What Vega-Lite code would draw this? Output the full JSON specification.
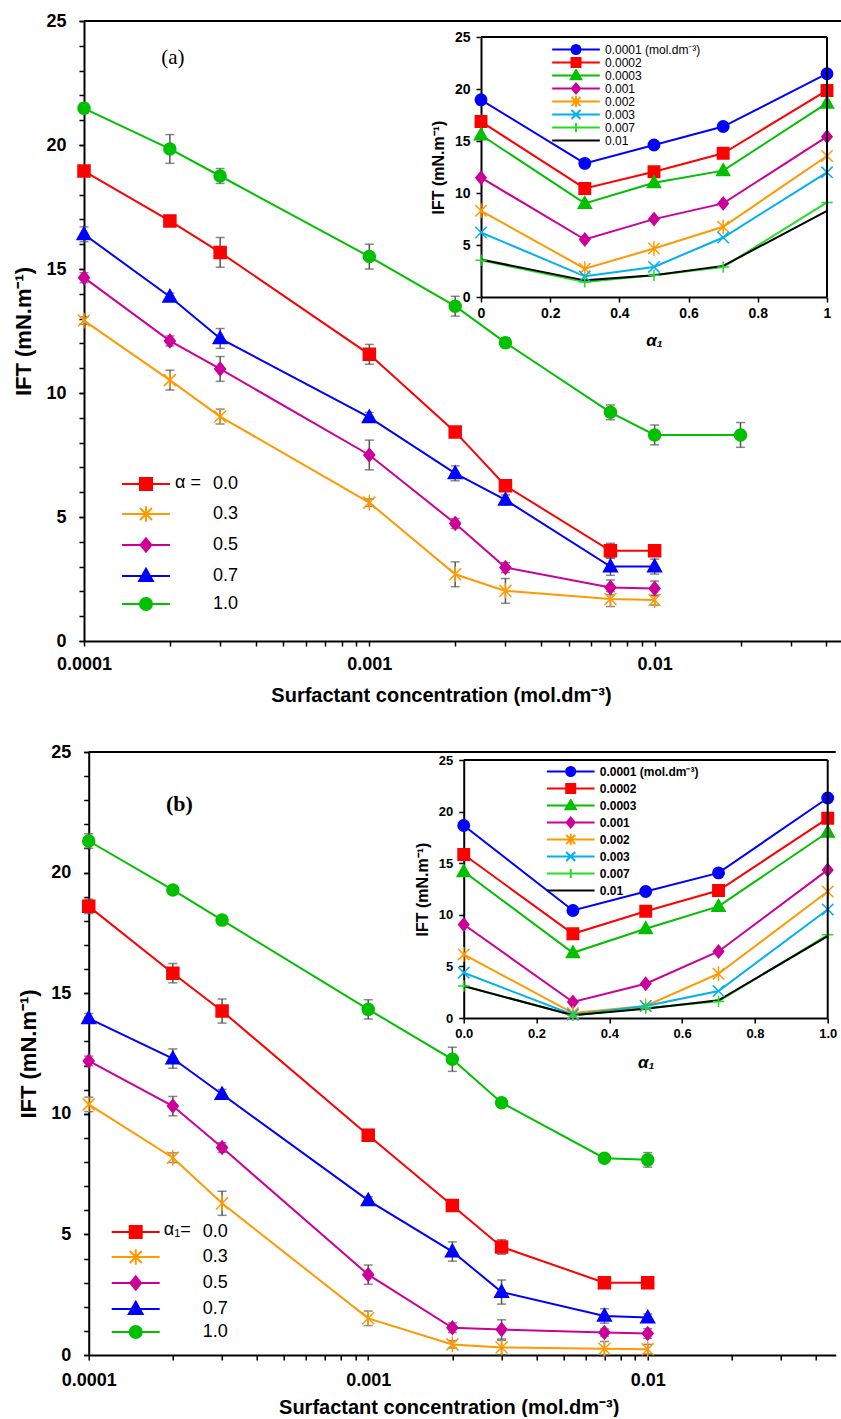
{
  "$schema": "https://vega.github.io/schema/vega-lite/v6.json",
  "padding": {"left": 12, "top": 12, "right": 0, "bottom": 0},
  "spacing": 38,
  "center": true,
  "config": {"view": {"stroke": null}, "font": "Liberation Sans", "axis": {"labelOverlap": false, "labelBound": false}},
  "datasets": {
    "mainA": [
      {"c":0.0001,"a":"0.0","v":18.95,"e":0.2},{"c":0.0002,"a":"0.0","v":16.94,"e":0.2},{"c":0.0003,"a":"0.0","v":15.67,"e":0.6},{"c":0.001,"a":"0.0","v":11.56,"e":0.4},{"c":0.002,"a":"0.0","v":8.43,"e":0.2},{"c":0.003,"a":"0.0","v":6.26,"e":0.2},{"c":0.007,"a":"0.0","v":3.64,"e":0.3},{"c":0.01,"a":"0.0","v":3.64,"e":0.2},
      {"c":0.0001,"a":"0.3","v":12.92,"e":0.15},{"c":0.0002,"a":"0.3","v":10.52,"e":0.4},{"c":0.0003,"a":"0.3","v":9.05,"e":0.3},{"c":0.001,"a":"0.3","v":5.58,"e":0.15},{"c":0.002,"a":"0.3","v":2.69,"e":0.5},{"c":0.003,"a":"0.3","v":2.02,"e":0.5},{"c":0.007,"a":"0.3","v":1.69,"e":0.3},{"c":0.01,"a":"0.3","v":1.65,"e":0.2},
      {"c":0.0001,"a":"0.5","v":14.65,"e":0.2},{"c":0.0002,"a":"0.5","v":12.1,"e":0.2},{"c":0.0003,"a":"0.5","v":10.97,"e":0.5},{"c":0.001,"a":"0.5","v":7.5,"e":0.6},{"c":0.002,"a":"0.5","v":4.74,"e":0.2},{"c":0.003,"a":"0.5","v":2.96,"e":0.2},{"c":0.007,"a":"0.5","v":2.16,"e":0.3},{"c":0.01,"a":"0.5","v":2.12,"e":0.3},
      {"c":0.0001,"a":"0.7","v":16.4,"e":0.3},{"c":0.0002,"a":"0.7","v":13.88,"e":0.15},{"c":0.0003,"a":"0.7","v":12.2,"e":0.4},{"c":0.001,"a":"0.7","v":9.02,"e":0.2},{"c":0.002,"a":"0.7","v":6.76,"e":0.3},{"c":0.003,"a":"0.7","v":5.69,"e":0.2},{"c":0.007,"a":"0.7","v":3.0,"e":0.35},{"c":0.01,"a":"0.7","v":3.0,"e":0.3},
      {"c":0.0001,"a":"1.0","v":21.48,"e":0.2},{"c":0.0002,"a":"1.0","v":19.84,"e":0.58},{"c":0.0003,"a":"1.0","v":18.75,"e":0.3},{"c":0.001,"a":"1.0","v":15.5,"e":0.5},{"c":0.002,"a":"1.0","v":13.5,"e":0.4},{"c":0.003,"a":"1.0","v":12.03,"e":0.2},{"c":0.007,"a":"1.0","v":9.22,"e":0.3},{"c":0.01,"a":"1.0","v":8.31,"e":0.4},{"c":0.02,"a":"1.0","v":8.31,"e":0.5}
    ],
    "mainB": [
      {"c":0.0001,"a":"0.0","v":18.6,"e":0.3},{"c":0.0002,"a":"0.0","v":15.83,"e":0.4},{"c":0.0003,"a":"0.0","v":14.26,"e":0.5},{"c":0.001,"a":"0.0","v":9.11,"e":0.2},{"c":0.002,"a":"0.0","v":6.2,"e":0.2},{"c":0.003,"a":"0.0","v":4.48,"e":0.3},{"c":0.007,"a":"0.0","v":3.0,"e":0.2},{"c":0.01,"a":"0.0","v":3.0,"e":0.2},
      {"c":0.0001,"a":"0.3","v":10.39,"e":0.3},{"c":0.0002,"a":"0.3","v":8.18,"e":0.2},{"c":0.0003,"a":"0.3","v":6.29,"e":0.5},{"c":0.001,"a":"0.3","v":1.52,"e":0.3},{"c":0.002,"a":"0.3","v":0.44,"e":0.15},{"c":0.003,"a":"0.3","v":0.31,"e":0.3},{"c":0.007,"a":"0.3","v":0.26,"e":0.3},{"c":0.01,"a":"0.3","v":0.24,"e":0.2},
      {"c":0.0001,"a":"0.5","v":12.19,"e":0.2},{"c":0.0002,"a":"0.5","v":10.32,"e":0.4},{"c":0.0003,"a":"0.5","v":8.6,"e":0.2},{"c":0.001,"a":"0.5","v":3.33,"e":0.4},{"c":0.002,"a":"0.5","v":1.13,"e":0.2},{"c":0.003,"a":"0.5","v":1.06,"e":0.4},{"c":0.007,"a":"0.5","v":0.93,"e":0.15},{"c":0.01,"a":"0.5","v":0.89,"e":0.2},
      {"c":0.0001,"a":"0.7","v":13.96,"e":0.2},{"c":0.0002,"a":"0.7","v":12.29,"e":0.4},{"c":0.0003,"a":"0.7","v":10.81,"e":0.2},{"c":0.001,"a":"0.7","v":6.41,"e":0.15},{"c":0.002,"a":"0.7","v":4.29,"e":0.4},{"c":0.003,"a":"0.7","v":2.61,"e":0.5},{"c":0.007,"a":"0.7","v":1.62,"e":0.3},{"c":0.01,"a":"0.7","v":1.55,"e":0.15},
      {"c":0.0001,"a":"1.0","v":21.31,"e":0.3},{"c":0.0002,"a":"1.0","v":19.28,"e":0.15},{"c":0.0003,"a":"1.0","v":18.03,"e":0.15},{"c":0.001,"a":"1.0","v":14.33,"e":0.4},{"c":0.002,"a":"1.0","v":12.26,"e":0.5},{"c":0.003,"a":"1.0","v":10.46,"e":0.15},{"c":0.007,"a":"1.0","v":8.16,"e":0.15},{"c":0.01,"a":"1.0","v":8.09,"e":0.3}
    ],
    "insetA": [
      {"a1":0,"c":"0.0001","v":18.96},{"a1":0.3,"c":"0.0001","v":12.85},{"a1":0.5,"c":"0.0001","v":14.62},{"a1":0.7,"c":"0.0001","v":16.39},{"a1":1,"c":"0.0001","v":21.47},
      {"a1":0,"c":"0.0002","v":16.87},{"a1":0.3,"c":"0.0002","v":10.44},{"a1":0.5,"c":"0.0002","v":12.05},{"a1":0.7,"c":"0.0002","v":13.82},{"a1":1,"c":"0.0002","v":19.86},
      {"a1":0,"c":"0.0003","v":15.58},{"a1":0.3,"c":"0.0003","v":9.0},{"a1":0.5,"c":"0.0003","v":10.99},{"a1":0.7,"c":"0.0003","v":12.15},{"a1":1,"c":"0.0003","v":18.64},
      {"a1":0,"c":"0.001","v":11.47},{"a1":0.3,"c":"0.001","v":5.53},{"a1":0.5,"c":"0.001","v":7.49},{"a1":0.7,"c":"0.001","v":9.0},{"a1":1,"c":"0.001","v":15.42},
      {"a1":0,"c":"0.002","v":8.29},{"a1":0.3,"c":"0.002","v":2.73},{"a1":0.5,"c":"0.002","v":4.66},{"a1":0.7,"c":"0.002","v":6.75},{"a1":1,"c":"0.002","v":13.56},
      {"a1":0,"c":"0.003","v":6.2},{"a1":0.3,"c":"0.003","v":1.99},{"a1":0.5,"c":"0.003","v":2.89},{"a1":0.7,"c":"0.003","v":5.72},{"a1":1,"c":"0.003","v":11.99},
      {"a1":0,"c":"0.007","v":3.53},{"a1":0.3,"c":"0.007","v":1.45},{"a1":0.5,"c":"0.007","v":2.09},{"a1":0.7,"c":"0.007","v":2.89},{"a1":1,"c":"0.007","v":9.09},
      {"a1":0,"c":"0.01","v":3.6},{"a1":0.3,"c":"0.01","v":1.6},{"a1":0.5,"c":"0.01","v":2.09},{"a1":0.7,"c":"0.01","v":2.99},{"a1":1,"c":"0.01","v":8.29}
    ],
    "insetB": [
      {"a1":0,"c":"0.0001","v":18.65},{"a1":0.3,"c":"0.0001","v":10.42},{"a1":0.5,"c":"0.0001","v":12.26},{"a1":0.7,"c":"0.0001","v":14.06},{"a1":1,"c":"0.0001","v":21.32},
      {"a1":0,"c":"0.0002","v":15.84},{"a1":0.3,"c":"0.0002","v":8.16},{"a1":0.5,"c":"0.0002","v":10.35},{"a1":0.7,"c":"0.0002","v":12.35},{"a1":1,"c":"0.0002","v":19.35},
      {"a1":0,"c":"0.0003","v":14.19},{"a1":0.3,"c":"0.0003","v":6.32},{"a1":0.5,"c":"0.0003","v":8.65},{"a1":0.7,"c":"0.0003","v":10.81},{"a1":1,"c":"0.0003","v":18.0},
      {"a1":0,"c":"0.001","v":9.06},{"a1":0.3,"c":"0.001","v":1.55},{"a1":0.5,"c":"0.001","v":3.32},{"a1":0.7,"c":"0.001","v":6.45},{"a1":1,"c":"0.001","v":14.35},
      {"a1":0,"c":"0.002","v":6.16},{"a1":0.3,"c":"0.002","v":0.48},{"a1":0.5,"c":"0.002","v":1.16},{"a1":0.7,"c":"0.002","v":4.29},{"a1":1,"c":"0.002","v":12.26},
      {"a1":0,"c":"0.003","v":4.39},{"a1":0.3,"c":"0.003","v":0.32},{"a1":0.5,"c":"0.003","v":1.16},{"a1":0.7,"c":"0.003","v":2.61},{"a1":1,"c":"0.003","v":10.52},
      {"a1":0,"c":"0.007","v":3.1},{"a1":0.3,"c":"0.007","v":0.26},{"a1":0.5,"c":"0.007","v":0.97},{"a1":0.7,"c":"0.007","v":1.61},{"a1":1,"c":"0.007","v":8.06},
      {"a1":0,"c":"0.01","v":3.1},{"a1":0.3,"c":"0.01","v":0.26},{"a1":0.5,"c":"0.01","v":0.9},{"a1":0.7,"c":"0.01","v":1.71},{"a1":1,"c":"0.01","v":7.94}
    ]
  },
  "vconcat": [
    {
      "width": 757,
      "height": 620,
      "resolve": {"scale": {"x": "independent", "y": "independent", "color": "independent", "shape": "independent", "stroke": "independent"}},
      "layer": [
        {
          "resolve": {"scale": {"color": "independent", "shape": "independent", "stroke": "independent"}},
          "layer": [
            {
              "data": {"name": "mainA"},
              "encoding": {
                "x": {"field": "c", "type": "quantitative",
                  "scale": {"type": "log", "domain": [0.0001, 0.045], "nice": false},
                  "axis": {"orient": "bottom", "grid": false, "values": [0.0001,0.0002,0.0003,0.0004,0.0005,0.0006,0.0007,0.0008,0.0009,0.001,0.002,0.003,0.004,0.005,0.006,0.007,0.008,0.009,0.01,0.02,0.03,0.04],
                    "labelExpr": "datum.value == 0.0001 ? '0.0001' : datum.value == 0.001 ? '0.001' : datum.value == 0.01 ? '0.01' : ''",
                    "labelOverlap": false, "labelFlush": false, "tickSize": 5, "tickWidth": 1.5, "tickColor": "black", "domainColor": "black", "domainWidth": 2,
                    "labelFont": "Liberation Sans", "labelFontSize": 18, "labelFontWeight": "bold", "labelColor": "black", "labelPadding": 9,
                    "title": "Surfactant concentration (mol.dm⁻³)", "titleFont": "Liberation Sans", "titleFontSize": 20, "titleFontWeight": "bold", "titleColor": "black", "titlePadding": 12, "titleX": 357}},
                "y": {"field": "v", "type": "quantitative",
                  "scale": {"domain": [0, 25], "nice": false},
                  "axis": {"orient": "left", "grid": false, "values": [0,5,10,15,20,25],
                    "labelOverlap": false, "labelFlush": false, "tickSize": 5, "tickWidth": 1.5, "tickColor": "black", "domainColor": "black", "domainWidth": 2,
                    "labelFont": "Liberation Sans", "labelFontSize": 18, "labelFontWeight": "bold", "labelColor": "black", "labelPadding": 13,
                    "title": "IFT (mN.m⁻¹)", "titleFont": "Liberation Sans", "titleFontSize": 22, "titleFontWeight": "bold", "titleColor": "black", "titlePadding": 10}}
              },
              "layer": [
                {"mark": {"type": "line", "strokeWidth": 2},
                 "encoding": {"color": {"field": "a", "type": "nominal", "legend": null, "scale": {"domain": ["0.0","0.3","0.5","0.7","1.0"], "range": ["#FF0000","#FF9900","#CC0099","#0000FF","#00C000"]}}}},
                {"mark": {"type": "errorbar", "ticks": true, "size": 9, "thickness": 1.5, "color": "#555555"},
                 "encoding": {"yError": {"field": "e"}}},
                {"mark": {"type": "point", "filled": true, "size": 144, "strokeWidth": 1.5, "opacity": 1},
                 "encoding": {
                   "color": {"field": "a", "type": "nominal", "legend": null, "scale": {"domain": ["0.0","0.3","0.5","0.7","1.0"], "range": ["#FF0000","#FF9900","#CC0099","#0000FF","#00C000"]}},
                   "shape": {"field": "a", "type": "nominal", "legend": null, "scale": {"domain": ["0.0","0.3","0.5","0.7","1.0"], "range": ["M-1,-1H1V1H-1Z","M-1,-1L1,1M-1,1L1,-1M0,-1.3V1.3","M0,-1.1L0.9,0L0,1.1L-0.9,0Z","M0,-1.2L1.15,0.85H-1.15Z","M-1,0A1,1,0,1,0,1,0A1,1,0,1,0,-1,0Z"]}},
                   "stroke": {"field": "a", "type": "nominal", "legend": null, "scale": {"domain": ["0.0","0.3","0.5","0.7","1.0"], "range": ["#FF0000","#FF9900","#CC0099","#0000FF","#00C000"]}}
                 }}
              ]
            },
            {
              "data": {"name": "mainA"},
              "transform": [{"filter": "false"}],
              "mark": {"type": "point", "filled": true, "strokeWidth": 2, "opacity": 1},
              "encoding": {
                "x": {"field": "c", "type": "quantitative"},
                "y": {"field": "v", "type": "quantitative"},
                "color": {"field": "a", "type": "nominal", "scale": {"domain": ["0.0","0.3","0.5","0.7","1.0"], "range": ["#FF0000","#FF9900","#CC0099","#0000FF","#00C000"]},
                  "legend": {"orient": "none", "legendX": 31, "legendY": 454, "title": null, "padding": 0, "rowPadding": 8,
                    "symbolSize": 144, "symbolStrokeWidth": 2, "symbolOffset": 22, "labelOffset": 58,
                    "labelFont": "Liberation Sans", "labelFontSize": 18, "labelColor": "black"}},
                "shape": {"field": "a", "type": "nominal", "scale": {"domain": ["0.0","0.3","0.5","0.7","1.0"], "range": ["M-4,0H4M-1,-1H1V1H-1Z","M-4,0H4M-1,-1L1,1M-1,1L1,-1M0,-1.3V1.3","M-4,0H4M0,-1.1L0.9,0L0,1.1L-0.9,0Z","M-4,0H4M0,-1.2L1.15,0.85H-1.15Z","M-4,0H4M-1,0A1,1,0,1,0,1,0A1,1,0,1,0,-1,0Z"]}},
                "stroke": {"field": "a", "type": "nominal", "scale": {"domain": ["0.0","0.3","0.5","0.7","1.0"], "range": ["#FF0000","#FF9900","#CC0099","#0000FF","#00C000"]}}
              }
            },
            {"data": {"values": [{}]}, "mark": {"type": "rule", "color": "black", "strokeWidth": 2}, "encoding": {"y": {"datum": 25}}},
            {"data": {"values": [{}]}, "mark": {"type": "text", "text": "(a)", "font": "Liberation Serif", "fontSize": 21, "color": "black"},
             "encoding": {"x": {"datum": 0.000205}, "y": {"datum": 23.5}}},
            {"data": {"values": [{}]}, "mark": {"type": "text", "text": "α =", "font": "Liberation Sans", "fontSize": 18, "color": "black", "align": "left", "baseline": "middle"},
             "encoding": {"x": {"datum": 0.0002086}, "y": {"datum": 6.36}}}
          ]
        },
        {
          "data": {"values": [{}]},
          "mark": {"type": "point", "opacity": 0},
          "encoding": {"y": {"datum": 0, "type": "quantitative", "scale": {"domain": [0, 25], "nice": false},
            "axis": {"orient": "left", "values": [0,1,2,3,4,5,6,7,8,9,10,11,12,13,14,15,16,17,18,19,20,21,22,23,24,25], "labels": false, "domain": false, "grid": false, "title": null, "tickSize": 5, "tickWidth": 1.5, "tickColor": "black"}}}
        },
        {
          "resolve": {"scale": {"color": "independent", "shape": "independent", "stroke": "independent"}},
          "layer": [
            {
              "data": {"name": "insetA"},
              "encoding": {
                "x": {"field": "a1", "type": "quantitative",
                  "scale": {"domain": [0, 1], "range": [397, 743], "nice": false, "zero": false},
                  "axis": {"orient": "bottom", "offset": -344, "grid": false, "values": [0,0.2,0.4,0.6,0.8,1], "format": "~g",
                    "labelFlush": false, "labelOverlap": false, "tickSize": 5, "tickWidth": 1.5, "tickColor": "black", "domainColor": "black", "domainWidth": 2,
                    "labelFont": "Liberation Sans", "labelFontSize": 14, "labelFontWeight": "bold", "labelColor": "black", "labelPadding": 4,
                    "title": "α₁", "titleFont": "Liberation Sans", "titleFontSize": 17, "titleFontWeight": "bold", "titleFontStyle": "italic", "titleColor": "black", "titlePadding": 12}},
                "y": {"field": "v", "type": "quantitative",
                  "scale": {"domain": [0, 25], "range": [276, 16], "nice": false},
                  "axis": {"orient": "left", "offset": -397, "grid": false, "values": [0,5,10,15,20,25],
                    "labelFlush": false, "labelOverlap": false, "tickSize": 5, "tickWidth": 1.5, "tickColor": "black", "domainColor": "black", "domainWidth": 2,
                    "labelFont": "Liberation Sans", "labelFontSize": 14, "labelFontWeight": "bold", "labelColor": "black", "labelPadding": 6,
                    "title": "IFT (mN.m⁻¹)", "titleFont": "Liberation Sans", "titleFontSize": 16, "titleFontWeight": "bold", "titleColor": "black", "titlePadding": 8}}
              },
              "layer": [
                {"mark": {"type": "line", "strokeWidth": 2},
                 "encoding": {"color": {"field": "c", "type": "nominal", "legend": null, "scale": {"domain": ["0.0001","0.0002","0.0003","0.001","0.002","0.003","0.007","0.01"], "range": ["#0000FF","#FF0000","#00C000","#CC0099","#FF9900","#00B0F0","#22DD22","#000000"]}}}},
                {"mark": {"type": "point", "filled": true, "size": 130, "strokeWidth": 1.5, "opacity": 1},
                 "encoding": {
                   "color": {"field": "c", "type": "nominal", "legend": null, "scale": {"domain": ["0.0001","0.0002","0.0003","0.001","0.002","0.003","0.007","0.01"], "range": ["#0000FF","#FF0000","#00C000","#CC0099","#FF9900","#00B0F0","#22DD22","#000000"]}},
                   "shape": {"field": "c", "type": "nominal", "legend": null, "scale": {"domain": ["0.0001","0.0002","0.0003","0.001","0.002","0.003","0.007","0.01"], "range": ["M-1,0A1,1,0,1,0,1,0A1,1,0,1,0,-1,0Z","M-1,-1H1V1H-1Z","M0,-1.2L1.15,0.85H-1.15Z","M0,-1.1L0.9,0L0,1.1L-0.9,0Z","M-1,-1L1,1M-1,1L1,-1M0,-1.3V1.3","M-1,-1L1,1M-1,1L1,-1","M-1,0H1M0,-1V1","M0,0"]}},
                   "stroke": {"field": "c", "type": "nominal", "legend": null, "scale": {"domain": ["0.0001","0.0002","0.0003","0.001","0.002","0.003","0.007","0.01"], "range": ["#0000FF","#FF0000","#00C000","#CC0099","#FF9900","#00B0F0","#22DD22","#000000"]}}
                 }}
              ]
            },
            {
              "data": {"name": "insetA"},
              "transform": [{"filter": "false"}],
              "mark": {"type": "point", "filled": true, "strokeWidth": 2, "opacity": 1},
              "encoding": {
                "x": {"field": "a1", "type": "quantitative"},
                "y": {"field": "v", "type": "quantitative"},
                "color": {"field": "c", "type": "nominal", "scale": {"domain": ["0.0001","0.0002","0.0003","0.001","0.002","0.003","0.007","0.01"], "range": ["#0000FF","#FF0000","#00C000","#CC0099","#FF9900","#00B0F0","#22DD22","#000000"]},
                  "legend": {"orient": "none", "legendX": 466, "legendY": 22, "title": null, "padding": 0, "rowPadding": 0, "clipHeight": 13,
                    "symbolSize": 81, "symbolStrokeWidth": 2, "symbolOffset": 20, "labelOffset": 23,
                    "labelFont": "Liberation Sans", "labelFontSize": 12, "labelColor": "black",
                    "labelExpr": "datum.value == '0.0001' ? '0.0001 (mol.dm⁻³)' : datum.label"}},
                "shape": {"field": "c", "type": "nominal", "scale": {"domain": ["0.0001","0.0002","0.0003","0.001","0.002","0.003","0.007","0.01"], "range": ["M-5.3,0H5.3M-1,0A1,1,0,1,0,1,0A1,1,0,1,0,-1,0Z","M-5.3,0H5.3M-1,-1H1V1H-1Z","M-5.3,0H5.3M0,-1.2L1.15,0.85H-1.15Z","M-5.3,0H5.3M0,-1.1L0.9,0L0,1.1L-0.9,0Z","M-5.3,0H5.3M-1,-1L1,1M-1,1L1,-1M0,-1.3V1.3","M-5.3,0H5.3M-1,-1L1,1M-1,1L1,-1","M-5.3,0H5.3M0,-1V1","M-5.3,0H5.3"]}},
                "stroke": {"field": "c", "type": "nominal", "scale": {"domain": ["0.0001","0.0002","0.0003","0.001","0.002","0.003","0.007","0.01"], "range": ["#0000FF","#FF0000","#00C000","#CC0099","#FF9900","#00B0F0","#22DD22","#000000"]}}
              }
            },
            {"data": {"values": [{}]}, "mark": {"type": "rule", "color": "black", "strokeWidth": 2}, "encoding": {"x": {"datum": 0}, "x2": {"datum": 1}, "y": {"datum": 25}}},
            {"data": {"values": [{}]}, "mark": {"type": "rule", "color": "black", "strokeWidth": 2}, "encoding": {"x": {"datum": 1}, "y": {"datum": 0}, "y2": {"datum": 25}}}
          ]
        }
      ]
    },
    {
      "width": 747,
      "height": 603,
      "resolve": {"scale": {"x": "independent", "y": "independent", "color": "independent", "shape": "independent", "stroke": "independent"}},
      "layer": [
        {
          "resolve": {"scale": {"color": "independent", "shape": "independent", "stroke": "independent"}},
          "layer": [
            {
              "data": {"name": "mainB"},
              "encoding": {
                "x": {"field": "c", "type": "quantitative",
                  "scale": {"type": "log", "domain": [0.0001, 0.04706], "nice": false},
                  "axis": {"orient": "bottom", "grid": false, "values": [0.0001,0.0002,0.0003,0.0004,0.0005,0.0006,0.0007,0.0008,0.0009,0.001,0.002,0.003,0.004,0.005,0.006,0.007,0.008,0.009,0.01,0.02,0.03,0.04],
                    "labelExpr": "datum.value == 0.0001 ? '0.0001' : datum.value == 0.001 ? '0.001' : datum.value == 0.01 ? '0.01' : ''",
                    "labelOverlap": false, "labelFlush": false, "tickSize": 5, "tickWidth": 1.5, "tickColor": "black", "domainColor": "black", "domainWidth": 2,
                    "labelFont": "Liberation Sans", "labelFontSize": 18, "labelFontWeight": "bold", "labelColor": "black", "labelPadding": 11,
                    "title": "Surfactant concentration (mol.dm⁻³)", "titleFont": "Liberation Sans", "titleFontSize": 20, "titleFontWeight": "bold", "titleColor": "black", "titlePadding": 8, "titleX": 360}},
                "y": {"field": "v", "type": "quantitative",
                  "scale": {"domain": [0, 25], "nice": false},
                  "axis": {"orient": "left", "grid": false, "values": [0,5,10,15,20,25],
                    "labelOverlap": false, "labelFlush": false, "tickSize": 5, "tickWidth": 1.5, "tickColor": "black", "domainColor": "black", "domainWidth": 2,
                    "labelFont": "Liberation Sans", "labelFontSize": 18, "labelFontWeight": "bold", "labelColor": "black", "labelPadding": 13,
                    "title": "IFT (mN.m⁻¹)", "titleFont": "Liberation Sans", "titleFontSize": 22, "titleFontWeight": "bold", "titleColor": "black", "titlePadding": 10}}
              },
              "layer": [
                {"mark": {"type": "line", "strokeWidth": 2},
                 "encoding": {"color": {"field": "a", "type": "nominal", "legend": null, "scale": {"domain": ["0.0","0.3","0.5","0.7","1.0"], "range": ["#FF0000","#FF9900","#CC0099","#0000FF","#00C000"]}}}},
                {"mark": {"type": "errorbar", "ticks": true, "size": 9, "thickness": 1.5, "color": "#555555"},
                 "encoding": {"yError": {"field": "e"}}},
                {"mark": {"type": "point", "filled": true, "size": 144, "strokeWidth": 1.5, "opacity": 1},
                 "encoding": {
                   "color": {"field": "a", "type": "nominal", "legend": null, "scale": {"domain": ["0.0","0.3","0.5","0.7","1.0"], "range": ["#FF0000","#FF9900","#CC0099","#0000FF","#00C000"]}},
                   "shape": {"field": "a", "type": "nominal", "legend": null, "scale": {"domain": ["0.0","0.3","0.5","0.7","1.0"], "range": ["M-1,-1H1V1H-1Z","M-1,-1L1,1M-1,1L1,-1M0,-1.3V1.3","M0,-1.1L0.9,0L0,1.1L-0.9,0Z","M0,-1.2L1.15,0.85H-1.15Z","M-1,0A1,1,0,1,0,1,0A1,1,0,1,0,-1,0Z"]}},
                   "stroke": {"field": "a", "type": "nominal", "legend": null, "scale": {"domain": ["0.0","0.3","0.5","0.7","1.0"], "range": ["#FF0000","#FF9900","#CC0099","#0000FF","#00C000"]}}
                 }}
              ]
            },
            {
              "data": {"name": "mainB"},
              "transform": [{"filter": "false"}],
              "mark": {"type": "point", "filled": true, "strokeWidth": 2, "opacity": 1},
              "encoding": {
                "x": {"field": "c", "type": "quantitative"},
                "y": {"field": "v", "type": "quantitative"},
                "color": {"field": "a", "type": "nominal", "scale": {"domain": ["0.0","0.3","0.5","0.7","1.0"], "range": ["#FF0000","#FF9900","#CC0099","#0000FF","#00C000"]},
                  "legend": {"orient": "none", "legendX": 16, "legendY": 471, "title": null, "padding": 0, "rowPadding": 3,
                    "symbolSize": 144, "symbolStrokeWidth": 2, "symbolOffset": 22, "labelOffset": 58,
                    "labelFont": "Liberation Sans", "labelFontSize": 18, "labelColor": "black"}},
                "shape": {"field": "a", "type": "nominal", "scale": {"domain": ["0.0","0.3","0.5","0.7","1.0"], "range": ["M-4,0H4M-1,-1H1V1H-1Z","M-4,0H4M-1,-1L1,1M-1,1L1,-1M0,-1.3V1.3","M-4,0H4M0,-1.1L0.9,0L0,1.1L-0.9,0Z","M-4,0H4M0,-1.2L1.15,0.85H-1.15Z","M-4,0H4M-1,0A1,1,0,1,0,1,0A1,1,0,1,0,-1,0Z"]}},
                "stroke": {"field": "a", "type": "nominal", "scale": {"domain": ["0.0","0.3","0.5","0.7","1.0"], "range": ["#FF0000","#FF9900","#CC0099","#0000FF","#00C000"]}}
              }
            },
            {"data": {"values": [{}]}, "mark": {"type": "rule", "color": "black", "strokeWidth": 2}, "encoding": {"y": {"datum": 25}}},
            {"data": {"values": [{}]}, "mark": {"type": "text", "text": "(b)", "font": "Liberation Serif", "fontSize": 22, "fontWeight": "bold", "color": "black"},
             "encoding": {"x": {"datum": 0.000211}, "y": {"datum": 22.83}}},
            {"data": {"values": [{}]}, "mark": {"type": "text", "text": "α₁=", "font": "Liberation Sans", "fontSize": 18, "color": "black", "align": "left", "baseline": "middle"},
             "encoding": {"x": {"datum": 0.0001855}, "y": {"datum": 5.17}}}
          ]
        },
        {
          "data": {"values": [{}]},
          "mark": {"type": "point", "opacity": 0},
          "encoding": {"y": {"datum": 0, "type": "quantitative", "scale": {"domain": [0, 25], "nice": false},
            "axis": {"orient": "left", "values": [0,1,2,3,4,5,6,7,8,9,10,11,12,13,14,15,16,17,18,19,20,21,22,23,24,25], "labels": false, "domain": false, "grid": false, "title": null, "tickSize": 5, "tickWidth": 1.5, "tickColor": "black"}}}
        },
        {
          "resolve": {"scale": {"color": "independent", "shape": "independent", "stroke": "independent"}},
          "layer": [
            {
              "data": {"name": "insetB"},
              "encoding": {
                "x": {"field": "a1", "type": "quantitative",
                  "scale": {"domain": [0, 1], "range": [375, 739], "nice": false, "zero": false},
                  "axis": {"orient": "bottom", "offset": -337, "grid": false, "values": [0,0.2,0.4,0.6,0.8,1], "format": ".1f",
                    "labelFlush": false, "labelOverlap": false, "tickSize": 5, "tickWidth": 1.5, "tickColor": "black", "domainColor": "black", "domainWidth": 2,
                    "labelFont": "Liberation Sans", "labelFontSize": 13, "labelFontWeight": "bold", "labelColor": "black", "labelPadding": 4,
                    "title": "α₁", "titleFont": "Liberation Sans", "titleFontSize": 17, "titleFontWeight": "bold", "titleFontStyle": "italic", "titleColor": "black", "titlePadding": 14}},
                "y": {"field": "v", "type": "quantitative",
                  "scale": {"domain": [0, 25], "range": [266, 8], "nice": false},
                  "axis": {"orient": "left", "offset": -375, "grid": false, "values": [0,5,10,15,20,25],
                    "labelFlush": false, "labelOverlap": false, "tickSize": 5, "tickWidth": 1.5, "tickColor": "black", "domainColor": "black", "domainWidth": 2,
                    "labelFont": "Liberation Sans", "labelFontSize": 13, "labelFontWeight": "bold", "labelColor": "black", "labelPadding": 6,
                    "title": "IFT (mN.m⁻¹)", "titleFont": "Liberation Sans", "titleFontSize": 16, "titleFontWeight": "bold", "titleColor": "black", "titlePadding": 8}}
              },
              "layer": [
                {"mark": {"type": "line", "strokeWidth": 2},
                 "encoding": {"color": {"field": "c", "type": "nominal", "legend": null, "scale": {"domain": ["0.0001","0.0002","0.0003","0.001","0.002","0.003","0.007","0.01"], "range": ["#0000FF","#FF0000","#00C000","#CC0099","#FF9900","#00B0F0","#22DD22","#000000"]}}}},
                {"mark": {"type": "point", "filled": true, "size": 130, "strokeWidth": 1.5, "opacity": 1},
                 "encoding": {
                   "color": {"field": "c", "type": "nominal", "legend": null, "scale": {"domain": ["0.0001","0.0002","0.0003","0.001","0.002","0.003","0.007","0.01"], "range": ["#0000FF","#FF0000","#00C000","#CC0099","#FF9900","#00B0F0","#22DD22","#000000"]}},
                   "shape": {"field": "c", "type": "nominal", "legend": null, "scale": {"domain": ["0.0001","0.0002","0.0003","0.001","0.002","0.003","0.007","0.01"], "range": ["M-1,0A1,1,0,1,0,1,0A1,1,0,1,0,-1,0Z","M-1,-1H1V1H-1Z","M0,-1.2L1.15,0.85H-1.15Z","M0,-1.1L0.9,0L0,1.1L-0.9,0Z","M-1,-1L1,1M-1,1L1,-1M0,-1.3V1.3","M-1,-1L1,1M-1,1L1,-1","M-1,0H1M0,-1V1","M0,0"]}},
                   "stroke": {"field": "c", "type": "nominal", "legend": null, "scale": {"domain": ["0.0001","0.0002","0.0003","0.001","0.002","0.003","0.007","0.01"], "range": ["#0000FF","#FF0000","#00C000","#CC0099","#FF9900","#00B0F0","#22DD22","#000000"]}}
                 }}
              ]
            },
            {
              "data": {"name": "insetB"},
              "transform": [{"filter": "false"}],
              "mark": {"type": "point", "filled": true, "strokeWidth": 2, "opacity": 1},
              "encoding": {
                "x": {"field": "a1", "type": "quantitative"},
                "y": {"field": "v", "type": "quantitative"},
                "color": {"field": "c", "type": "nominal", "scale": {"domain": ["0.0001","0.0002","0.0003","0.001","0.002","0.003","0.007","0.01"], "range": ["#0000FF","#FF0000","#00C000","#CC0099","#FF9900","#00B0F0","#22DD22","#000000"]},
                  "legend": {"orient": "none", "legendX": 456, "legendY": 13, "title": null, "padding": 0, "rowPadding": 4, "clipHeight": 13,
                    "symbolSize": 81, "symbolStrokeWidth": 2, "symbolOffset": 20, "labelOffset": 23,
                    "labelFont": "Liberation Sans", "labelFontSize": 12, "labelFontWeight": "bold", "labelColor": "black",
                    "labelExpr": "datum.value == '0.0001' ? '0.0001 (mol.dm⁻³)' : datum.label"}},
                "shape": {"field": "c", "type": "nominal", "scale": {"domain": ["0.0001","0.0002","0.0003","0.001","0.002","0.003","0.007","0.01"], "range": ["M-5.3,0H5.3M-1,0A1,1,0,1,0,1,0A1,1,0,1,0,-1,0Z","M-5.3,0H5.3M-1,-1H1V1H-1Z","M-5.3,0H5.3M0,-1.2L1.15,0.85H-1.15Z","M-5.3,0H5.3M0,-1.1L0.9,0L0,1.1L-0.9,0Z","M-5.3,0H5.3M-1,-1L1,1M-1,1L1,-1M0,-1.3V1.3","M-5.3,0H5.3M-1,-1L1,1M-1,1L1,-1","M-5.3,0H5.3M0,-1V1","M-5.3,0H5.3"]}},
                "stroke": {"field": "c", "type": "nominal", "scale": {"domain": ["0.0001","0.0002","0.0003","0.001","0.002","0.003","0.007","0.01"], "range": ["#0000FF","#FF0000","#00C000","#CC0099","#FF9900","#00B0F0","#22DD22","#000000"]}}
              }
            },
            {"data": {"values": [{}]}, "mark": {"type": "rule", "color": "black", "strokeWidth": 2}, "encoding": {"x": {"datum": 0}, "x2": {"datum": 1}, "y": {"datum": 25}}},
            {"data": {"values": [{}]}, "mark": {"type": "rule", "color": "black", "strokeWidth": 2}, "encoding": {"x": {"datum": 1}, "y": {"datum": 0}, "y2": {"datum": 25}}}
          ]
        }
      ]
    }
  ]
}
